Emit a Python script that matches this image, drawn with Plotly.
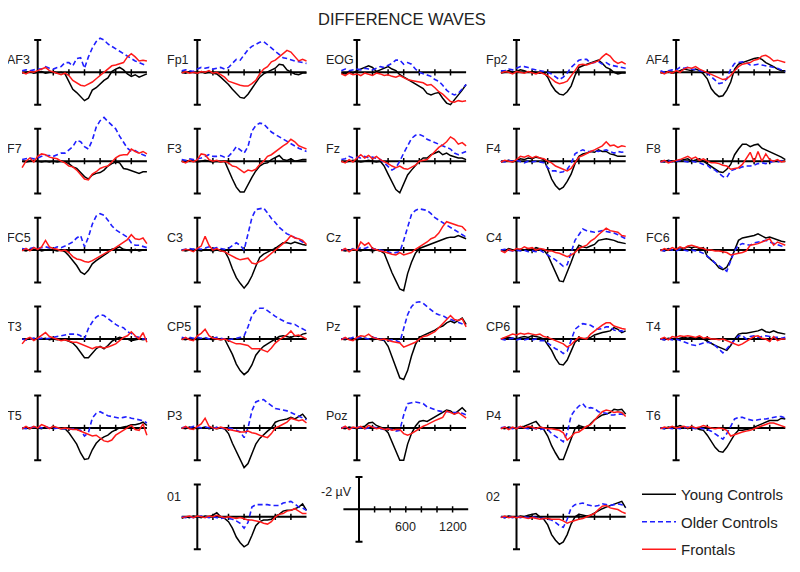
import plotly.graph_objects as go

# ---------------- data ----------------
TIMES_MS = [-200, -150, -100, -50, 0, 50, 100, 150, 200, 250, 300, 350, 400, 450, 500, 550,
            600, 650, 700, 750, 800, 850, 900, 950, 1000, 1050, 1100, 1150, 1200, 1250, 1300, 1350, 1400]

GRID_ROWS = [
    ["AF3", "Fp1", "EOG", "Fp2", "AF4"],
    ["F7", "F3", "Fz", "F4", "F8"],
    ["FC5", "C3", "Cz", "C4", "FC6"],
    ["T3", "CP5", "Pz", "CP6", "T4"],
    ["T5", "P3", "Poz", "P4", "T6"],
    ["", "01", "", "02", ""],
]
SERIES_NAMES = ["Young Controls", "Older Controls", "Frontals"]
AXIS_TICKS_MS = [200, 400, 600, 800, 1000, 1200]
SCALE_TICK_LABELS = {600: "600", 1200: "1200"}
SCALE_UNIT_LABEL = "-2 µV"
TITLE = "DIFFERENCE WAVES"

# amplitudes in microvolts (negative plotted upward)
YOUNG = {
    "AF3": [0.05, 0.0, -0.05, 0.05, 0.0, -0.05, 0.05, 0.0, -0.05, 0.05, 0.0, 0.1, 0.6, 1.05, 1.25, 1.5, 1.75, 1.6, 1.1, 0.95, 0.7, 0.5, 0.35, -0.05, -0.2, -0.3, -0.15, 0.1, 0.25, 0.15, 0.3, 0.2, 0.1],
    "Fp1": [0.0, 0.05, -0.05, 0.0, 0.05, -0.05, 0.05, 0.0, 0.05, 0.1, 0.3, 0.5, 0.75, 1.05, 1.3, 1.55, 1.6, 1.35, 1.0, 0.65, 0.3, 0.1, 0.0, -0.15, -0.25, -0.5, -0.45, -0.15, 0.0, 0.1, 0.15, 0.05, 0.05],
    "EOG": [0.05, 0.1, -0.05, 0.05, -0.1, -0.2, -0.35, -0.4, -0.3, -0.05, -0.15, -0.25, -0.35, -0.2, -0.1, 0.15, 0.3, 0.45, 0.6, 0.75, 0.9, 1.0, 1.3, 1.4, 1.3, 1.25, 1.6, 1.9, 2.0, 1.7, 1.45, 1.1, 0.75],
    "Fp2": [0.05, 0.0, -0.1, 0.0, -0.05, -0.15, -0.1, 0.0, -0.05, 0.0, 0.05, 0.0, 0.3, 0.8, 1.15, 1.35, 1.4, 1.2, 0.85, 0.2, -0.3, -0.4, -0.5, -0.55, -0.65, -0.75, -0.55, -0.3, -0.2, 0.0, 0.1, 0.05, 0.05],
    "AF4": [0.05, 0.0, -0.05, 0.05, 0.0, -0.1, -0.2, -0.15, -0.1, -0.2, -0.1, 0.1, 0.4, 1.0, 1.3, 1.5, 1.45, 1.1, 0.6, -0.2, -0.5, -0.6, -0.7, -0.75, -0.85, -0.9, -0.8, -0.6, -0.5, -0.35, -0.2, -0.1, -0.1],
    "F7": [0.0, 0.05, 0.0, -0.05, 0.0, 0.05, 0.0, 0.05, 0.0, 0.05, 0.0, 0.05, 0.15, 0.35, 0.45, 0.7, 0.95, 1.1, 0.85, 0.75, 0.7, 0.55, 0.3, 0.15, 0.05, 0.1, 0.45, 0.5, 0.6, 0.7, 0.75, 0.65, 0.65],
    "F3": [0.0, 0.05, -0.05, 0.0, 0.05, 0.0, -0.05, 0.0, 0.05, 0.0, 0.05, 0.0, 0.6, 1.1, 1.6, 1.9, 1.9, 1.4, 1.0, 0.6, 0.3, 0.15, 0.1, -0.1, -0.2, -0.35, -0.1, -0.05, -0.15, 0.0, -0.05, -0.1, -0.1],
    "Fz": [0.0, 0.05, 0.0, -0.05, 0.0, 0.05, 0.0, -0.05, 0.0, 0.05, 0.0, 0.3, 0.8, 1.3, 1.75, 1.95, 1.4, 0.85, 0.55, 0.25, 0.0, -0.2, -0.2, -0.4, -0.5, -0.6, -0.4, -0.5, -0.35, -0.25, -0.2, -0.2, -0.1],
    "F4": [0.05, 0.0, -0.05, 0.05, -0.05, -0.15, -0.1, -0.2, -0.15, -0.25, -0.2, -0.1, 0.45, 1.1, 1.5, 1.75, 1.6, 1.25, 0.8, 0.15, -0.3, -0.45, -0.5, -0.6, -0.55, -0.7, -0.6, -0.6, -0.45, -0.4, -0.3, -0.3, -0.3],
    "F8": [0.0, 0.05, -0.05, 0.0, 0.05, -0.05, -0.1, -0.15, 0.0, -0.1, -0.15, 0.0, 0.15, 0.3, 0.5, 0.65, 0.7, 0.5, 0.2, -0.4, -0.75, -1.05, -1.05, -0.9, -1.0, -1.05, -0.8, -0.7, -0.6, -0.45, -0.4, -0.25, -0.1],
    "FC5": [0.0, 0.05, -0.05, 0.0, -0.05, 0.05, 0.0, -0.05, 0.0, 0.05, 0.0, 0.1, 0.35, 0.65, 0.95, 1.35, 1.5, 1.25, 0.85, 0.65, 0.5, 0.35, 0.15, -0.05, -0.1, -0.2, -0.05, 0.0, 0.05, -0.05, 0.05, 0.0, 0.0],
    "C3": [0.0, 0.05, 0.0, -0.05, 0.0, 0.05, -0.05, 0.0, 0.05, 0.0, 0.05, 0.05, 0.5, 1.15, 1.7, 2.05, 2.35, 2.05, 1.6, 1.0, 0.45, 0.25, 0.1, 0.0, -0.1, -0.3, -0.45, -0.45, -0.4, -0.5, -0.4, -0.35, -0.3],
    "Cz": [0.0, 0.05, 0.0, -0.05, 0.0, 0.05, -0.05, 0.0, 0.05, 0.0, 0.05, 0.2, 0.85, 1.4, 1.9, 2.4, 2.5, 1.45, 0.75, 0.2, -0.1, -0.2, -0.3, -0.35, -0.45, -0.55, -0.7, -0.75, -0.8, -0.8, -0.9, -0.8, -0.7],
    "C4": [0.0, 0.05, -0.1, 0.0, 0.05, -0.05, 0.0, -0.1, 0.0, -0.15, -0.05, 0.0, 0.3, 0.85, 1.45, 1.9, 1.95, 1.4, 0.75, 0.1, -0.3, -0.2, -0.15, -0.25, -0.35, -0.6, -0.65, -0.7, -0.65, -0.6, -0.5, -0.45, -0.4],
    "FC6": [0.0, 0.05, -0.1, 0.0, -0.05, -0.15, -0.1, -0.2, -0.15, -0.2, -0.1, -0.15, 0.4, 0.6, 0.8, 1.1, 1.2, 1.05, 0.6, 0.0, -0.6, -0.75, -0.8, -0.85, -0.9, -1.0, -0.85, -0.75, -0.8, -0.7, -0.6, -0.55, -0.5],
    "T3": [0.0, 0.05, -0.05, 0.0, -0.05, 0.0, -0.05, 0.05, 0.0, 0.05, 0.0, 0.05, 0.15, 0.25, 0.5, 0.85, 1.15, 1.15, 0.85, 0.6, 0.45, 0.6, 0.4, 0.15, 0.0, -0.1, -0.05, 0.0, 0.1, 0.05, 0.0, 0.05, 0.0],
    "CP5": [0.0, 0.05, -0.05, 0.0, 0.05, 0.0, -0.05, 0.0, 0.05, 0.0, 0.05, 0.0, 0.45, 0.95, 1.55, 1.95, 2.2, 2.0, 1.6, 1.0, 0.7, 0.45, 0.3, 0.15, 0.0, -0.15, -0.2, -0.15, -0.1, -0.2, -0.15, -0.3, -0.35],
    "Pz": [0.0, 0.05, -0.05, 0.0, 0.05, 0.0, -0.05, 0.0, 0.05, 0.0, 0.05, 0.1, 0.45, 1.1, 1.8, 2.4, 2.5, 1.95, 1.05, 0.35, -0.1, -0.2, -0.3, -0.4, -0.55, -0.7, -0.8, -1.0, -1.1, -1.0, -1.15, -1.3, -0.9],
    "CP6": [0.0, -0.05, -0.1, -0.05, 0.0, -0.1, -0.15, -0.1, -0.2, -0.15, -0.1, 0.0, 0.35, 0.7, 1.2, 1.55, 1.6, 1.3, 0.75, 0.2, 0.0, 0.0, -0.05, -0.1, -0.25, -0.35, -0.4, -0.45, -0.5, -0.7, -0.6, -0.4, -0.5],
    "T4": [0.0, 0.05, -0.05, 0.0, 0.05, -0.05, -0.1, -0.05, -0.1, -0.05, -0.1, 0.0, 0.15, 0.3, 0.4, 0.5, 0.6, 0.7, 0.4, 0.0, -0.3, -0.35, -0.35, -0.4, -0.45, -0.5, -0.6, -0.45, -0.4, -0.5, -0.4, -0.35, -0.3],
    "T5": [0.05, 0.0, 0.05, -0.05, 0.0, 0.05, -0.05, 0.0, -0.05, 0.0, 0.05, 0.05, 0.3, 0.65, 1.0, 1.55, 1.95, 1.9, 1.35, 0.95, 0.7, 0.55, 0.45, 0.25, 0.1, 0.0, -0.05, -0.1, -0.2, -0.2, -0.25, -0.35, -0.15],
    "P3": [0.0, 0.05, -0.05, 0.0, 0.05, 0.0, -0.05, 0.05, 0.0, 0.05, 0.0, 0.05, 0.35, 0.95, 1.45, 2.05, 2.45, 2.2, 1.6, 1.0, 0.65, 0.4, 0.2, 0.0, -0.35, -0.45, -0.5, -0.55, -0.65, -0.55, -0.7, -0.85, -0.55],
    "Poz": [0.0, 0.05, -0.05, 0.0, 0.05, -0.05, -0.1, -0.3, -0.35, -0.15, -0.05, 0.05, 0.3, 0.9, 1.5, 2.0, 2.0, 1.0, 0.35, -0.1, -0.4, -0.45, -0.4, -0.55, -0.65, -0.8, -1.0, -1.1, -1.05, -0.85, -1.05, -1.25, -1.0],
    "P4": [0.0, 0.05, -0.05, 0.0, 0.05, -0.05, -0.1, -0.2, -0.3, -0.4, -0.1, 0.1, 0.5, 1.1, 1.55, 1.95, 1.95, 1.35, 0.7, 0.05, -0.15, -0.05, 0.0, -0.25, -0.5, -0.65, -0.8, -0.85, -0.95, -1.15, -1.1, -1.15, -0.85],
    "T6": [0.0, 0.05, -0.05, 0.0, -0.05, -0.15, -0.05, 0.05, -0.05, 0.0, 0.1, 0.15, 0.45, 0.8, 1.2, 1.45, 1.5, 1.2, 0.8, 0.4, 0.15, 0.15, 0.1, 0.05, -0.05, -0.15, -0.3, -0.4, -0.45, -0.45, -0.45, -0.6, -0.55],
    "01": [0.1, 0.0, 0.05, -0.05, 0.0, 0.05, -0.05, 0.0, -0.1, -0.25, 0.0, 0.1, 0.3, 0.7, 1.25, 1.6, 1.85, 1.7, 1.15, 0.55, 0.3, 0.2, 0.2, 0.15, -0.05, -0.15, -0.35, -0.4, -0.4, -0.5, -0.6, -0.8, -0.4],
    "02": [0.0, 0.05, -0.05, 0.0, 0.05, -0.05, 0.0, -0.1, -0.15, -0.2, 0.0, 0.15, 0.5, 1.1, 1.45, 1.7, 1.55, 1.1, 0.45, 0.0, -0.15, -0.1, -0.05, -0.1, -0.25, -0.35, -0.5, -0.6, -0.7, -0.75, -0.85, -0.95, -0.55],
}

OLDER = {
    "AF3": [-0.1, -0.15, -0.1, -0.15, -0.2, -0.2, -0.35, -0.25, -0.2, -0.3, -0.35, -0.6, -0.6, -0.4, -0.85, -0.9, -0.25, -0.95, -1.5, -1.9, -2.1, -2.0, -1.75, -1.6, -1.45, -1.3, -1.1, -0.95, -0.85, -0.7, -0.6, -0.5, -0.4],
    "Fp1": [-0.1, -0.15, -0.1, -0.05, -0.2, -0.3, -0.25, -0.3, -0.2, -0.25, -0.3, -0.2, -0.3, -0.55, -0.8, -0.75, -1.1, -1.4, -1.6, -1.75, -1.85, -1.9, -1.7, -1.5, -1.25, -1.1, -0.9, -0.85, -0.75, -0.7, -0.65, -0.6, -0.55],
    "EOG": [-0.1, -0.2, -0.1, -0.15, -0.2, -0.15, -0.25, -0.2, -0.15, -0.25, -0.35, -0.3, -0.4, -0.55, -0.75, -0.75, -0.5, -0.6, -0.5, -0.2, 0.0, 0.1, 0.15, 0.25, 0.45, 0.55, 0.8, 1.1, 1.3, 1.4, 1.3, 1.0, 0.75],
    "Fp2": [-0.1, -0.1, -0.2, -0.15, -0.25, -0.35, -0.35, -0.3, -0.2, -0.15, -0.1, -0.05, 0.0, 0.1, 0.3, 0.45, 0.3, 0.05, -0.3, -0.55, -0.75, -0.8, -0.8, -0.55, -0.6, -0.65, -0.5, -0.6, -0.45, -0.4, -0.35, -0.3, -0.25],
    "AF4": [-0.1, 0.0, -0.1, -0.15, -0.15, -0.3, -0.25, -0.3, -0.2, -0.15, -0.1, -0.05, 0.05, 0.25, 0.45, 0.7, 0.65, 0.4, -0.2, -0.55, -0.6, -0.65, -0.6, -0.45, -0.45, -0.5, -0.45, -0.4, -0.35, -0.3, -0.25, -0.15, -0.05],
    "F7": [-0.1, -0.15, -0.2, -0.15, -0.2, -0.3, -0.35, -0.35, -0.3, -0.4, -0.5, -0.5, -0.7, -0.9, -1.3, -1.2, -0.9, -0.75, -1.3, -2.1, -2.5, -2.7, -2.45, -2.2, -2.0, -1.55, -1.2, -0.8, -0.6, -0.65, -0.5, -0.4, -0.3],
    "F3": [-0.1, -0.05, -0.15, -0.1, -0.15, -0.2, -0.3, -0.4, -0.3, -0.3, -0.35, -0.25, -0.3, -0.55, -0.9, -0.7, -0.5, -0.9, -1.85, -2.2, -2.35, -2.3, -2.05, -1.8, -1.65, -1.5, -1.35, -1.2, -1.05, -0.9, -0.8, -0.7, -0.6],
    "Fz": [-0.1, -0.15, -0.3, -0.2, -0.25, -0.2, -0.3, -0.2, -0.25, -0.15, -0.1, 0.1, 0.35, 0.55, 0.4, 0.0, -0.5, -0.95, -1.4, -1.6, -1.65, -1.55, -1.35, -1.25, -1.15, -1.05, -0.95, -0.85, -0.75, -0.5, -0.4, -0.5, -0.6],
    "F4": [0.0, 0.05, -0.05, 0.0, -0.05, 0.05, 0.1, 0.0, 0.05, 0.0, 0.05, 0.1, 0.4, 0.6, 0.6, 0.7, 0.65, 0.5, 0.15, -0.45, -0.6, -0.7, -0.6, -0.6, -0.65, -0.6, -0.65, -0.7, -0.6, -0.5, -0.6, -0.55, -0.6],
    "F8": [0.05, 0.0, -0.05, 0.05, 0.0, -0.05, 0.0, 0.05, 0.0, 0.05, 0.1, 0.2, 0.25, 0.45, 0.55, 0.75, 0.95, 1.0, 0.6, 0.5, 0.45, 0.35, 0.3, 0.3, 0.25, 0.15, 0.1, 0.15, 0.05, 0.0, 0.05, -0.05, -0.1],
    "FC5": [-0.1, -0.05, -0.1, -0.15, -0.1, -0.15, -0.2, -0.15, -0.1, -0.2, -0.15, -0.25, -0.35, -0.5, -0.75, -0.9, -0.2, -0.8, -1.6, -2.1, -2.25, -2.15, -1.85, -1.5, -1.25, -1.1, -0.95, -0.8, -0.45, -0.3, -0.3, -0.2, -0.15],
    "C3": [0.0, -0.05, -0.1, -0.05, -0.1, -0.05, -0.15, -0.2, -0.1, -0.15, -0.1, -0.05, -0.1, -0.3, -0.45, -0.3, 0.0, -1.0, -2.0, -2.5, -2.55, -2.6, -2.3, -1.95, -1.7, -1.4, -1.2, -1.0, -0.9, -0.8, -0.65, -0.5, -0.4],
    "Cz": [0.0, -0.05, 0.05, -0.1, -0.05, -0.15, -0.1, -0.2, -0.1, -0.05, 0.0, 0.05, 0.1, 0.2, 0.15, 0.1, -0.6, -1.4, -2.2, -2.45, -2.55, -2.5, -2.45, -2.25, -2.0, -1.85, -1.7, -1.55, -1.45, -1.3, -1.15, -0.95, -0.8],
    "C4": [0.0, -0.05, 0.0, 0.05, 0.0, 0.05, 0.0, 0.1, 0.05, 0.1, 0.0, 0.15, 0.25, 0.45, 0.6, 0.8, 1.0, 0.9, 0.1, -0.6, -0.95, -1.3, -1.2, -1.15, -1.1, -1.15, -1.2, -1.15, -1.1, -1.05, -0.95, -0.85, -0.7],
    "FC6": [0.0, 0.05, -0.05, 0.0, 0.05, -0.05, 0.0, 0.05, 0.0, 0.05, 0.1, 0.2, 0.35, 0.55, 0.8, 0.95, 1.1, 1.3, 0.65, 0.05, -0.3, -0.4, -0.35, -0.3, -0.45, -0.5, -0.55, -0.6, -0.5, -0.4, -0.3, -0.25, -0.2],
    "T3": [0.0, 0.05, 0.0, -0.05, 0.0, -0.05, 0.0, -0.05, -0.1, -0.15, -0.2, -0.25, -0.3, -0.3, -0.3, -0.2, 0.0, -0.65, -1.05, -1.35, -1.5, -1.45, -1.25, -1.05, -0.9, -0.75, -0.7, -0.45, -0.35, -0.15, -0.1, 0.0, 0.0],
    "CP5": [-0.1, -0.05, -0.1, -0.05, -0.1, -0.05, -0.1, 0.0, -0.05, -0.1, -0.05, 0.0, 0.05, 0.0, -0.05, -0.1, -0.2, -0.75, -1.45, -1.75, -1.9, -1.9, -1.75, -1.55, -1.4, -1.25, -1.1, -1.0, -0.95, -0.9, -0.75, -0.6, -0.5],
    "Pz": [0.0, -0.05, 0.0, -0.1, -0.05, -0.1, -0.05, 0.0, -0.1, -0.05, 0.0, 0.05, 0.1, 0.05, 0.1, 0.2, -0.6, -1.5, -2.0, -2.25, -2.3, -2.2, -2.0, -1.8, -1.6, -1.5, -1.45, -1.3, -1.2, -1.1, -1.0, -0.95, -0.85],
    "CP6": [0.0, 0.05, 0.0, -0.05, 0.05, 0.0, 0.05, 0.0, 0.05, 0.0, 0.1, 0.1, 0.25, 0.45, 0.6, 0.7, 0.9, 0.75, 0.05, -0.6, -0.8, -0.95, -0.9, -0.85, -0.7, -0.6, -0.65, -0.75, -0.75, -0.55, -0.5, -0.5, -0.4],
    "T4": [0.0, 0.05, 0.0, 0.05, 0.0, 0.1, 0.2, 0.3, 0.35, 0.4, 0.3, 0.25, 0.2, 0.25, 0.4, 0.6, 0.85, 0.6, 0.35, 0.1, -0.2, -0.2, 0.0, -0.15, -0.2, -0.1, -0.15, -0.2, -0.15, -0.1, -0.1, -0.05, -0.1],
    "T5": [0.0, 0.05, 0.0, -0.05, -0.05, 0.0, -0.05, 0.0, 0.05, 0.0, 0.05, 0.05, 0.1, 0.05, 0.1, 0.15, 0.5, 0.3, -0.6, -0.9, -1.0, -0.85, -0.75, -0.7, -0.65, -0.6, -0.65, -0.7, -0.6, -0.55, -0.5, -0.45, -0.3],
    "P3": [0.0, -0.05, 0.0, -0.1, -0.05, 0.0, -0.05, 0.0, 0.05, -0.05, 0.0, 0.05, 0.0, 0.05, 0.15, 0.25, 0.6, 0.0, -1.05, -1.6, -1.7, -1.75, -1.55, -1.35, -1.2, -1.15, -1.1, -1.05, -0.95, -0.85, -0.7, -0.6, -0.5],
    "Poz": [0.0, -0.05, 0.05, 0.0, -0.05, 0.0, 0.05, 0.0, -0.05, 0.0, 0.05, 0.1, 0.05, 0.1, 0.2, 0.15, -0.8, -1.5, -1.55, -1.6, -1.55, -1.5, -1.3, -1.2, -1.1, -1.05, -1.0, -1.0, -1.0, -0.95, -0.95, -0.9, -0.8],
    "P4": [0.0, -0.05, 0.0, 0.05, 0.0, -0.05, 0.0, 0.05, 0.0, 0.05, 0.1, 0.05, 0.1, 0.35, 0.5, 0.7, 0.85, 0.3, -0.75, -1.1, -1.35, -1.5, -1.2, -1.25, -1.2, -1.0, -0.95, -0.9, -0.8, -0.8, -0.85, -0.85, -0.75],
    "T6": [0.0, 0.05, 0.0, 0.05, 0.0, 0.05, 0.0, -0.05, 0.0, 0.05, 0.0, 0.05, 0.1, 0.2, 0.35, 0.55, 0.7, 0.35, -0.1, -0.55, -0.65, -0.65, -0.55, -0.5, -0.45, -0.5, -0.55, -0.55, -0.6, -0.65, -0.7, -0.7, -0.6],
    "01": [0.0, 0.05, 0.0, 0.05, 0.0, -0.05, 0.0, 0.05, 0.0, 0.05, 0.1, 0.05, 0.1, 0.15, 0.25, 0.4, 0.7, 0.35, -0.6, -0.75, -0.75, -0.75, -0.75, -0.7, -0.7, -0.7, -0.85, -0.9, -0.95, -0.8, -0.6, -0.55, -0.4],
    "02": [0.0, 0.05, 0.0, 0.05, 0.0, 0.05, 0.0, 0.05, 0.0, 0.05, 0.1, 0.1, 0.15, 0.2, 0.35, 0.55, 0.65, 0.15, -0.55, -0.75, -0.8, -0.85, -0.75, -0.7, -0.65, -0.7, -0.8, -0.75, -0.7, -0.75, -0.8, -0.75, -0.6],
}

FRONTALS = {
    "AF3": [0.0, 0.1, -0.05, 0.0, -0.1, -0.2, -0.3, -0.1, 0.0, 0.1, 0.15, 0.05, 0.2, 0.5, 0.65, 0.8, 0.85, 0.75, 0.6, 0.4, 0.2, 0.0, -0.2, -0.4, -0.45, -0.55, -0.6, -0.95, -1.15, -0.95, -0.7, -0.75, -0.7],
    "Fp1": [0.05, -0.05, 0.05, 0.0, 0.05, -0.05, 0.0, -0.1, 0.05, 0.0, 0.15, 0.3, 0.55, 0.65, 0.75, 0.8, 0.85, 0.85, 0.7, 0.5, 0.1, -0.2, -0.35, -0.65, -0.75, -0.95, -1.15, -1.35, -1.25, -1.0, -0.7, -0.8, -0.7],
    "EOG": [0.1, 0.2, 0.05, 0.15, 0.1, 0.2, 0.05, 0.15, 0.2, 0.05, 0.1, 0.2, 0.15, 0.25, 0.3, 0.2, 0.35, 0.45, 0.5, 0.55, 0.6, 0.65, 0.8, 0.75, 0.95, 1.2, 1.35, 1.6, 1.8, 1.85, 1.75, 1.8, 1.75],
    "Fp2": [0.05, -0.05, 0.0, 0.1, -0.05, 0.0, 0.05, -0.05, 0.05, 0.1, 0.0, 0.1, 0.2, 0.4, 0.6, 0.7, 0.65, 0.55, 0.25, -0.1, -0.45, -0.5, -0.45, -0.55, -0.65, -0.7, -0.95, -1.15, -1.0, -0.7, -0.55, -0.65, -0.5],
    "AF4": [0.0, 0.1, -0.05, 0.05, -0.1, 0.0, -0.2, -0.3, -0.25, -0.35, -0.2, -0.1, 0.05, 0.15, 0.25, 0.3, 0.45, 0.4, 0.2, -0.1, -0.35, -0.5, -0.55, -0.6, -0.75, -0.8, -1.0, -1.05, -0.9, -0.7, -0.75, -0.65, -0.6],
    "F7": [0.4, 0.0, -0.2, 0.05, -0.3, -0.45, -0.4, -0.25, -0.2, -0.15, 0.0, 0.1, 0.3, 0.35, 0.55, 0.85, 1.1, 1.15, 0.8, 0.65, 0.45, 0.35, 0.3, 0.05, -0.2, -0.35, -0.4, -0.4, -0.75, -0.6, -0.5, -0.6, -0.45],
    "F3": [0.0, 0.1, -0.05, 0.05, -0.1, -0.45, -0.4, -0.1, 0.0, -0.05, 0.05, 0.0, 0.1, 0.3, 0.35, 0.55, 0.7, 0.55, 0.6, 0.5, 0.2, 0.0, -0.3, -0.4, -0.6, -0.75, -0.95, -1.1, -1.35, -1.2, -0.95, -0.85, -0.75],
    "Fz": [0.0, 0.1, -0.1, 0.05, -0.2, -0.4, -0.2, -0.35, -0.15, -0.3, -0.1, 0.0, 0.15, 0.3, 0.4, 0.3, 0.45, 0.5, 0.4, 0.25, 0.0, -0.05, -0.1, -0.35, -0.6, -0.85, -1.0, -1.2, -1.5, -1.35, -1.05, -1.15, -0.95],
    "F4": [0.05, -0.05, 0.0, 0.05, -0.1, -0.3, -0.25, -0.35, -0.2, -0.3, -0.2, -0.15, 0.0, 0.1, 0.3, 0.4, 0.45, 0.6, 0.45, 0.1, -0.25, -0.35, -0.5, -0.6, -0.7, -0.8, -0.95, -1.2, -0.95, -1.0, -0.85, -0.95, -0.9],
    "F8": [0.05, -0.05, 0.1, 0.0, -0.05, -0.1, -0.2, -0.3, -0.15, -0.25, -0.05, -0.15, 0.0, 0.1, 0.1, 0.15, 0.25, 0.3, 0.5, 0.45, 0.4, 0.2, -0.15, -0.55, 0.05, -0.6, 0.0, -0.45, -0.1, 0.0, -0.1, 0.05, 0.0],
    "FC5": [0.05, -0.1, 0.05, -0.15, -0.05, -0.2, -0.6, -0.2, -0.1, -0.05, 0.05, 0.0, 0.15, 0.4, 0.55, 0.6, 0.7, 0.75, 0.65, 0.5, 0.4, 0.25, 0.1, 0.0, -0.15, -0.3, -0.5, -0.65, -0.95, -0.7, -0.65, -0.75, -0.4],
    "C3": [0.05, -0.05, 0.0, 0.1, -0.1, -0.25, -0.85, -0.3, 0.0, -0.1, 0.05, 0.1, 0.25, 0.4, 0.5, 0.6, 0.55, 0.5, 0.8, 0.85, 0.7, 0.6, 0.4, 0.2, 0.0, -0.2, -0.35, -0.6, -0.9, -0.75, -0.7, -0.6, -0.35],
    "Cz": [0.05, -0.1, 0.1, -0.05, 0.0, -0.5, -0.3, -0.45, -0.1, 0.0, 0.05, 0.1, 0.2, 0.25, 0.3, 0.15, 0.3, 0.2, 0.15, -0.05, -0.2, -0.3, -0.5, -0.7, -0.8, -1.05, -1.45, -1.75, -1.65, -1.55, -1.5, -1.45, -1.2],
    "C4": [0.05, 0.15, -0.05, 0.05, -0.1, -0.05, -0.2, -0.1, -0.15, 0.0, -0.1, -0.05, 0.05, 0.05, 0.15, 0.2, 0.3, 0.4, 0.3, 0.15, -0.1, -0.2, -0.3, -0.55, -0.7, -0.95, -1.15, -1.35, -1.2, -1.15, -1.1, -0.9, -0.85],
    "FC6": [0.05, -0.1, 0.0, -0.15, -0.05, -0.2, -0.1, -0.25, -0.3, -0.2, -0.15, -0.1, 0.0, 0.0, 0.05, 0.05, 0.1, 0.15, 0.3, 0.25, 0.2, 0.15, 0.05, -0.3, -0.35, -0.4, -0.5, -0.6, -0.7, -0.3, -0.5, -0.4, -0.3],
    "T3": [0.3, 0.0, -0.1, 0.1, -0.05, -0.2, -0.4, -0.15, -0.05, 0.05, 0.1, 0.05, 0.15, 0.2, 0.2, 0.3, 0.35, 0.45, 0.6, 0.5, 0.5, 0.55, 0.5, 0.4, 0.3, 0.1, -0.1, -0.2, -0.45, -0.2, 0.0, -0.4, 0.2],
    "CP5": [0.05, -0.1, 0.05, 0.1, -0.2, -0.35, -0.6, -0.2, -0.05, 0.0, 0.05, 0.0, 0.1, 0.2, 0.3, 0.3, 0.35, 0.4, 0.6, 0.6, 0.6, 0.7, 0.8, 0.55, 0.25, 0.05, -0.1, -0.25, -0.5, -0.2, -0.25, -0.1, 0.0],
    "Pz": [0.05, -0.1, 0.05, 0.1, -0.1, -0.2, -0.15, -0.3, -0.1, 0.0, 0.05, 0.0, 0.1, 0.15, 0.2, 0.25, 0.5, 0.4, 0.35, 0.2, 0.0, -0.15, -0.2, -0.35, -0.45, -0.7, -0.95, -1.25, -1.45, -1.2, -1.15, -1.25, -0.75],
    "CP6": [0.0, -0.1, -0.2, -0.3, -0.25, -0.35, -0.3, -0.35, -0.3, -0.25, -0.3, -0.15, -0.1, 0.0, 0.1, 0.2, 0.3, 0.5, 0.35, 0.1, -0.1, -0.05, 0.0, -0.3, -0.5, -0.7, -0.85, -1.0, -1.0, -0.8, -0.7, -0.65, -0.6],
    "T4": [0.0, -0.1, 0.05, -0.15, -0.1, -0.2, -0.15, -0.2, -0.15, -0.1, -0.2, -0.05, -0.1, 0.0, 0.0, 0.05, 0.0, 0.1, 0.2, 0.35, 0.4, 0.3, 0.15, 0.0, -0.15, -0.2, -0.05, 0.0, 0.15, -0.15, 0.1, 0.0, 0.0],
    "T5": [0.05, -0.1, 0.05, -0.1, 0.0, -0.2, -0.1, 0.05, -0.1, 0.0, 0.05, 0.0, 0.05, 0.1, 0.1, 0.2, 0.35, 0.45, 0.5, 0.45, 0.65, 0.8, 0.85, 0.75, 0.45, 0.3, 0.2, 0.05, -0.15, 0.1, 0.15, -0.25, 0.45],
    "P3": [0.05, -0.1, 0.05, 0.1, -0.1, -0.25, -0.6, -0.1, 0.0, 0.05, -0.05, 0.05, 0.1, 0.15, 0.2, 0.25, 0.25, 0.2, 0.3, 0.35, 0.45, 0.55, 0.6, 0.35, 0.0, -0.1, -0.25, -0.35, -0.6, -0.5, -0.45, -0.5, -0.3],
    "Poz": [0.05, -0.1, 0.1, -0.05, 0.0, -0.1, 0.05, -0.15, -0.05, 0.05, 0.0, 0.1, 0.05, 0.15, 0.1, 0.1, 0.35, 0.45, 0.35, 0.2, 0.0, -0.1, -0.2, -0.35, -0.45, -0.55, -0.65, -1.05, -0.95, -0.85, -0.95, -0.8, -0.6],
    "P4": [0.05, -0.05, 0.1, -0.05, 0.05, -0.1, 0.0, -0.1, -0.05, 0.05, -0.05, 0.0, 0.05, 0.05, 0.1, 0.15, 0.3, 0.75, 0.55, 0.3, 0.25, 0.05, -0.1, -0.2, -0.5, -0.75, -1.0, -1.1, -1.05, -0.95, -1.0, -0.95, -0.7],
    "T6": [0.05, -0.05, 0.0, -0.1, 0.0, -0.05, -0.1, 0.0, -0.1, 0.0, -0.05, -0.15, -0.05, 0.0, 0.05, 0.0, 0.05, 0.15, 0.5, 0.4, 0.3, 0.25, 0.2, 0.15, 0.05, -0.05, -0.15, -0.25, -0.3, -0.3, -0.2, -0.1, -0.05],
    "01": [0.05, 0.0, -0.05, 0.05, -0.05, 0.0, 0.05, -0.05, 0.0, -0.1, 0.0, 0.05, 0.0, 0.05, 0.1, 0.05, 0.15, 0.2, 0.2, 0.25, 0.3, 0.4, 0.45, 0.3, 0.0, -0.15, -0.2, -0.35, -0.4, -0.5, -0.35, -0.2, -0.2],
    "02": [0.05, -0.05, 0.05, 0.0, 0.05, 0.0, 0.05, 0.1, 0.05, 0.1, 0.15, 0.1, 0.1, 0.15, 0.15, 0.15, 0.25, 0.4, 0.3, 0.2, 0.15, 0.1, 0.0, -0.05, -0.2, -0.45, -0.65, -0.7, -0.55, -0.5, -0.45, -0.3, -0.2],
}

GROUPS = [YOUNG, OLDER, FRONTALS]

# ---------------- styling / geometry ----------------
W, H = 800, 572
PAGE_OFF = 8.0                        # default page margin around the plot div
COL_X0, COL_DX = 37.7, 159.6          # screen x of each panel's vertical axis
ROW_Y0, ROW_DY = 72.3, 88.9           # screen y of each panel's zero line
PX_PER_MS = 0.078
PX_PER_UV = 16.2
X_RANGE = [-300, 1500]
Y_RANGE = [3.3, -3.5]                 # reversed: negative up
SCALE_AXIS_X, SCALE_ZERO_Y = 359.0, 509.3
FONT = "Liberation Sans, Arial, Helvetica, sans-serif"
TEXT_COLOR = "#222222"
STYLES = [
    dict(color="#000000", width=1.5),
    dict(color="#1f1fff", width=1.6, dash="5px,3px"),
    dict(color="#ff1a1a", width=1.5),
]


def px_x(sx):
    return (sx - PAGE_OFF) / W


def px_y(sy):
    return 1 - (sy - PAGE_OFF) / H


fig = go.Figure()
shapes, annotations = [], []
panel_index = [0]


def add_axes(ax_x, zero_y):
    panel_index[0] += 1
    k = panel_index[0]
    sfx = "" if k == 1 else str(k)
    x0 = ax_x + X_RANGE[0] * PX_PER_MS
    x1 = ax_x + X_RANGE[1] * PX_PER_MS
    ytop = zero_y + Y_RANGE[1] * PX_PER_UV
    ybot = zero_y + Y_RANGE[0] * PX_PER_UV
    fig.layout["xaxis" + sfx] = dict(domain=[px_x(x0), px_x(x1)], range=X_RANGE, visible=False,
                                     anchor="y" + sfx, fixedrange=True)
    fig.layout["yaxis" + sfx] = dict(domain=[px_y(ybot), px_y(ytop)], range=Y_RANGE, visible=False,
                                     anchor="x" + sfx, fixedrange=True)
    xr, yr = "x" + sfx, "y" + sfx
    lw = dict(color="black", width=2)
    shapes.append(dict(type="line", xref=xr, yref=yr, x0=TIMES_MS[0], x1=TIMES_MS[-1], y0=0, y1=0,
                       line=lw, layer="below"))
    shapes.append(dict(type="line", xref=xr, yref=yr, x0=0, x1=0, y0=-2, y1=2, line=lw, layer="below"))
    for yv in (-2, 2):
        shapes.append(dict(type="line", xref=xr, yref=yr, x0=-45, x1=45, y0=yv, y1=yv, line=lw,
                           layer="below"))
    for t in AXIS_TICKS_MS:
        shapes.append(dict(type="line", xref=xr, yref=yr, x0=t, x1=t, y0=-0.19, y1=0.19,
                           line=dict(color="black", width=1.5), layer="below"))
    return xr, yr


first = True
for r, row in enumerate(GRID_ROWS):
    for c, ch in enumerate(row):
        if not ch:
            continue
        ax_x = COL_X0 + COL_DX * c
        zero_y = ROW_Y0 + ROW_DY * r
        xr, yr = add_axes(ax_x, zero_y)
        for g, (group, name) in enumerate(zip(GROUPS, SERIES_NAMES)):
            fig.add_trace(go.Scatter(
                x=TIMES_MS, y=group[ch], xaxis=xr, yaxis=yr, mode="lines",
                line=STYLES[g], name=name, legendgroup=name, showlegend=first,
                hoverinfo="skip"))
        first = False
        lab_dy = 20 if r == len(GRID_ROWS) - 1 else 12
        annotations.append(dict(text=ch, xref="paper", yref="paper", x=px_x(ax_x - 32.5),
                                y=px_y(zero_y - lab_dy), xanchor="left", yanchor="middle",
                                showarrow=False, font=dict(family=FONT, size=12.5, color=TEXT_COLOR)))

# calibration panel
xr, yr = add_axes(SCALE_AXIS_X, SCALE_ZERO_Y)
for t, lab in SCALE_TICK_LABELS.items():
    annotations.append(dict(text=lab, xref=xr, yref=yr, x=t, y=1.07, xanchor="center",
                            yanchor="middle", showarrow=False,
                            font=dict(family=FONT, size=12.5, color=TEXT_COLOR)))
annotations.append(dict(text=SCALE_UNIT_LABEL, xref=xr, yref=yr, x=-70, y=-1.08, xanchor="right",
                        yanchor="middle", showarrow=False,
                        font=dict(family=FONT, size=12.5, color=TEXT_COLOR)))

annotations.append(dict(text=TITLE, xref="paper", yref="paper", x=px_x(402), y=px_y(19),
                        xanchor="center", yanchor="middle", showarrow=False,
                        font=dict(family=FONT, size=16.5, color=TEXT_COLOR)))

fig.update_layout(
    width=W, height=H, autosize=False,
    margin=dict(l=0, r=0, t=0, b=0),
    paper_bgcolor="white", plot_bgcolor="rgba(0,0,0,0)",
    shapes=shapes, annotations=annotations,
    showlegend=True,
    legend=dict(x=px_x(637), y=px_y(478), xanchor="left", yanchor="top",
                font=dict(family=FONT, size=15, color=TEXT_COLOR),
                traceorder="grouped", tracegroupgap=5, bgcolor="rgba(0,0,0,0)",
                itemwidth=34),
)

fig.write_html("out.html")
